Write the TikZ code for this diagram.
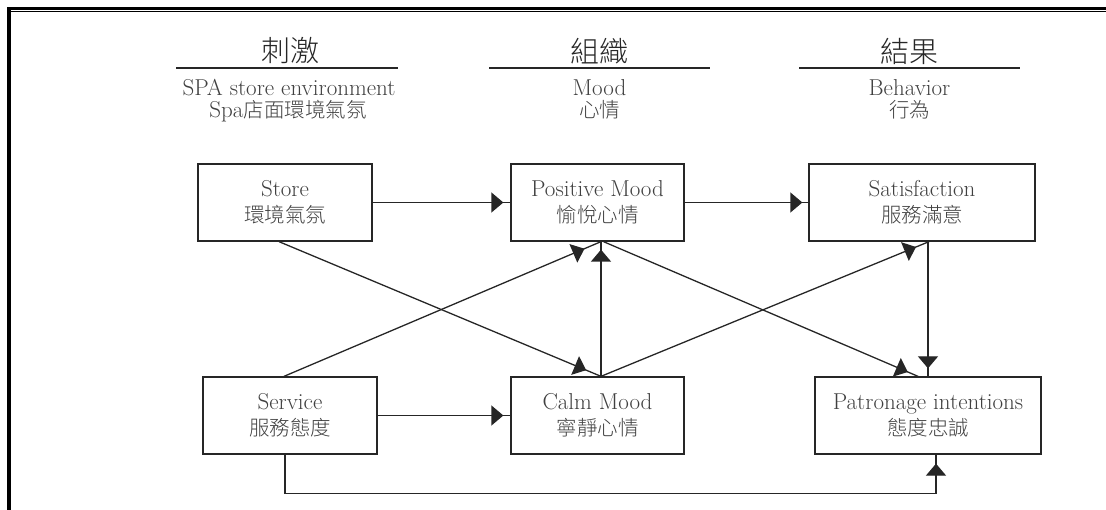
\documentclass[tikz,border=0pt]{standalone}
\usepackage{fontspec}
\IfFontExistsTF{Noto Sans CJK TC Light}
  {\newfontfamily\cjk{Noto Sans CJK TC Light}}
  {\newfontfamily\cjk{Noto Sans CJK TC}}
\usetikzlibrary{arrows.meta,decorations.markings}
\newcommand\boxtxtfont{\fontsize{23}{26}\selectfont}
\newcommand\hdrfont{\cjk\fontsize{29}{32}\selectfont}
\newcommand\zh[1]{{\cjk\fontsize{20.5}{26}\selectfont #1}}
\begin{document}
\begin{tikzpicture}[x=1pt,y=-1pt,
  box/.style={draw=black!85, line width=1.3pt, inner sep=0pt, align=center,
    font=\boxtxtfont, text=black!75},
  hdr/.style={font=\hdrfont, text=black!85, inner sep=0pt},
  sub/.style={font=\boxtxtfont, text=black!75, inner sep=0pt, anchor=base},
  hline/.style={draw=black!85, line width=1.4pt},
  conn/.style={draw=black!85, line width=1.3pt},
  tipmark/.style={conn, postaction={decorate}, decoration={markings,
    mark=at position #1 with {\arrow{Triangle[length=12pt,width=20pt]}}}},
]
\useasboundingbox (0,0) rectangle (1106,510);
% frame
\fill[black] (7.3,7.3) rectangle (1106,9.8);
\fill[black] (9,10.8) rectangle (1106,12.3);
\fill[black] (7.3,7.3) rectangle (11,510);

% headers
\node[hdr] (h1) at (290,51) {刺激};
\node[hdr] (h2) at (599.5,51) {組織};
\node[hdr] (h3) at (909.5,51) {結果};
\draw[hline] (176,68) -- (398,68);
\draw[hline] (489,68) -- (710,68);
\draw[hline] (799,68) -- (1020,68);
\node[sub] (h1e) at (289,96) {SPA store environment};
\node[sub] (h1c) at (288,118) {Spa\zh{店面環境氣氛}};
\node[sub] (h2e) at (599.5,96) {Mood};
\node[sub] (h2c) at (599.5,118) {\zh{心情}};
\node[sub] (h3e) at (909.5,96) {Behavior};
\node[sub] (h3c) at (909.5,118) {\zh{行為}};

% boxes
\node[box, minimum width=174pt, minimum height=77pt] (store) at (285,202.5) {Store\\\zh{環境氣氛}};
\node[box, minimum width=173pt, minimum height=77pt] (pm) at (597.5,202.5) {Positive Mood\\\zh{愉悅心情}};
\node[box, minimum width=226pt, minimum height=77pt] (sat) at (922,202.5) {Satisfaction\\\zh{服務滿意}};
\node[box, minimum width=174pt, minimum height=77pt] (serv) at (290,415.5) {Service\\\zh{服務態度}};
\node[box, minimum width=173pt, minimum height=77pt] (cm) at (597.5,415.5) {Calm Mood\\\zh{寧靜心情}};
\node[box, minimum width=226pt, minimum height=77pt] (pat) at (928,415.5) {Patronage intentions\\\zh{態度忠誠}};

% connectors
\draw[tipmark=-7pt] (store.east) -- (pm.west);
\draw[tipmark=-6pt] (pm.east) -- (sat.west);
\draw[tipmark=-7pt] (serv.east) -- (cm.west);
\draw[tipmark=-16pt] ([xshift=-6pt]store.south) -- ([xshift=3.5pt]cm.north);
\draw[tipmark=-18pt] ([xshift=-6pt]serv.north) -- ([xshift=3.5pt]pm.south);
\draw[tipmark=-8pt] ([xshift=3.5pt]cm.north) -- ([xshift=3.5pt]pm.south);
\draw[tipmark=-14pt] ([xshift=3.5pt]cm.north) -- ([xshift=7pt]sat.south);
\draw[tipmark=-11pt] ([xshift=6pt]pm.south) -- ([xshift=-10pt]pat.north);
\draw[tipmark=-8pt] (pat.north |- sat.south) -- (pat.north);
\draw[tipmark=-9pt] ([xshift=-5pt]serv.south) -- ++(0,39) -| ([xshift=8pt]pat.south);
\end{tikzpicture}
\end{document}
